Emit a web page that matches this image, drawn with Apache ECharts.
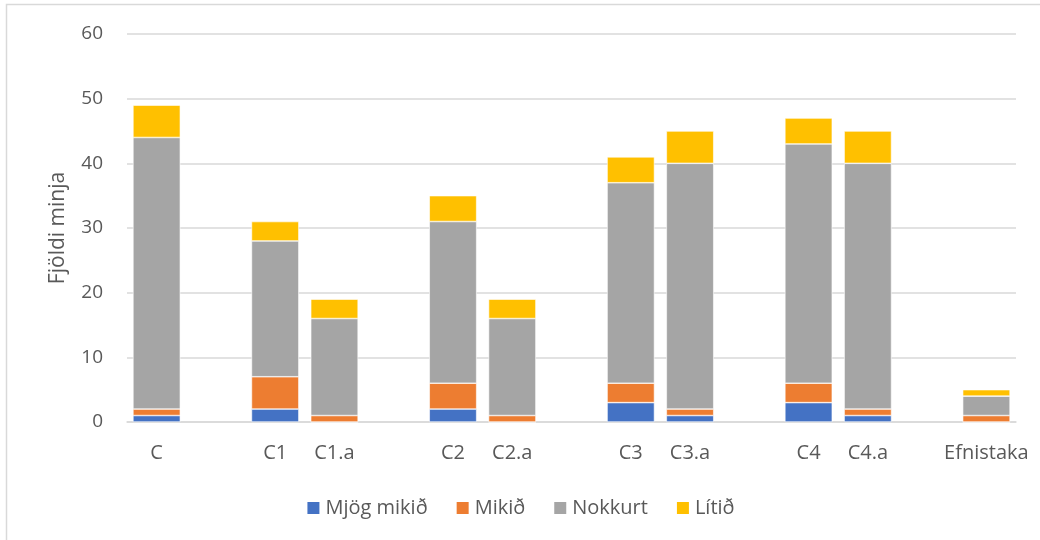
<!DOCTYPE html>
<html><head><meta charset="utf-8">
<script src="https://cdn.jsdelivr.net/npm/echarts@6/dist/echarts.min.js"></script>
<style>html,body{margin:0;padding:0;background:#fff}#c{width:1040px;height:540px}</style>
</head><body><div id="c"></div>
<script>
const categories = ['C', '', 'C1', 'C1.a', ' ', 'C2', 'C2.a', '  ', 'C3', 'C3.a', '   ', 'C4', 'C4.a', '    ', 'Efnistaka'];
const mjogMikid = [1, null, 2, 0, null, 2, 0, null, 3, 1, null, 3, 1, null, 0];
const mikid     = [1, null, 5, 1, null, 4, 1, null, 3, 1, null, 3, 1, null, 1];
const nokkurt   = [42, null, 21, 15, null, 25, 15, null, 31, 38, null, 37, 38, null, 3];
const litid     = [5, null, 3, 3, null, 4, 3, null, 4, 5, null, 4, 5, null, 1];
const yTicks = [0, 10, 20, 30, 40, 50, 60];

const FONT = 'Open Sans';
const chart = echarts.init(document.getElementById('c'), null, {renderer: 'canvas'});
function s(name, data, color) {
  return {name, type: 'bar', stack: 'a', data, barWidth: '80%',
    itemStyle: {color, borderColor: '#ffffff', borderWidth: 0.6}};
}
chart.setOption({
  animation: false,
  textStyle: {fontFamily: FONT},
  graphic: [{type: 'rect', shape: {x: 6.5, y: 4.5, width: 1100, height: 600},
    style: {fill: null, stroke: '#d9d9d9', lineWidth: 1.5}, z: -1}],
  grid: {left: 127, right: 24, top: 34, bottom: 118, containLabel: false},
  legend: {top: 493, left: 'center', itemWidth: 14, itemHeight: 14, itemGap: 27,
    icon: 'rect', textStyle: {color: '#595959', fontSize: 20, fontFamily: FONT},
    data: ['Mjög mikið', 'Mikið', 'Nokkurt', 'Lítið']},
  xAxis: {type: 'category', data: categories,
    axisLine: {lineStyle: {color: '#d9d9d9', width: 1.5}}, axisTick: {show: false},
    axisLabel: {color: '#595959', fontSize: 20, margin: 21, interval: 0}},
  yAxis: {type: 'value', min: yTicks[0], max: yTicks[yTicks.length - 1], interval: 10,
    name: 'Fjöldi minja', nameLocation: 'middle', nameGap: 58,
    nameTextStyle: {color: '#595959', fontSize: 21, fontFamily: FONT},
    axisLine: {show: false}, axisTick: {show: false},
    axisLabel: {color: '#595959', fontSize: 19, margin: 24},
    splitLine: {lineStyle: {color: '#d9d9d9', width: 1.5}}},
  series: [
    s('Mjög mikið', mjogMikid, '#4472c4'),
    s('Mikið', mikid, '#ed7d31'),
    s('Nokkurt', nokkurt, '#a5a5a5'),
    s('Lítið', litid, '#ffc000')
  ]
});
</script></body></html>
